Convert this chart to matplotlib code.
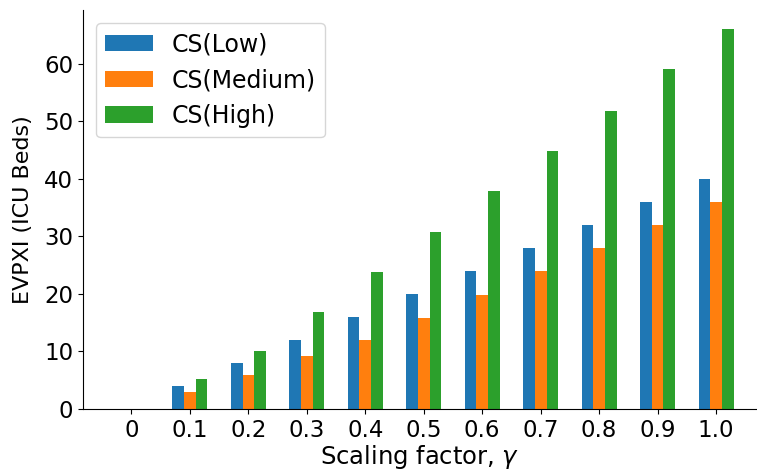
import numpy as np
import matplotlib
matplotlib.use('Agg')
import matplotlib.pyplot as plt

gamma_labels = ['0', '0.1', '0.2', '0.3', '0.4', '0.5', '0.6', '0.7', '0.8', '0.9', '1.0']
cs_low = [0, 4, 8, 12, 16, 20, 24, 28, 32, 36, 40]
cs_medium = [0, 3, 6, 9.2, 12, 15.8, 19.8, 24, 28, 32, 36]
cs_high = [0, 5.2, 10, 16.8, 23.8, 30.8, 37.8, 44.8, 51.8, 59, 66]

if __name__ == "__main__":
    x = np.arange(len(gamma_labels))
    w = 0.2
    fig = plt.figure(figsize=(7.57, 4.74), dpi=100, facecolor='w')
    ax = fig.add_axes([0.1096, 0.137, 0.8904, 0.842])
    ax.bar(x - w, cs_low, w, color='#1f77b4', label='CS(Low)')
    ax.bar(x, cs_medium, w, color='#ff7f0e', label='CS(Medium)')
    ax.bar(x + w, cs_high, w, color='#2ca02c', label='CS(High)')
    ax.set_xticks(x)
    ax.set_xticklabels(gamma_labels)
    ax.set_xlim(-0.83, 10.7)
    ax.set_ylim(0, 69.3)
    ax.tick_params(labelsize=16.5)
    ax.set_xlabel(r'Scaling factor, $\gamma$', fontsize=17.5, labelpad=1)
    ax.set_ylabel('EVPXI (ICU Beds)', fontsize=16, labelpad=8)
    ax.spines['top'].set_visible(False)
    ax.spines['right'].set_visible(False)
    ax.legend(loc='upper left', fontsize=17, borderaxespad=0.55)
    fig.savefig('out.png', dpi=100)
